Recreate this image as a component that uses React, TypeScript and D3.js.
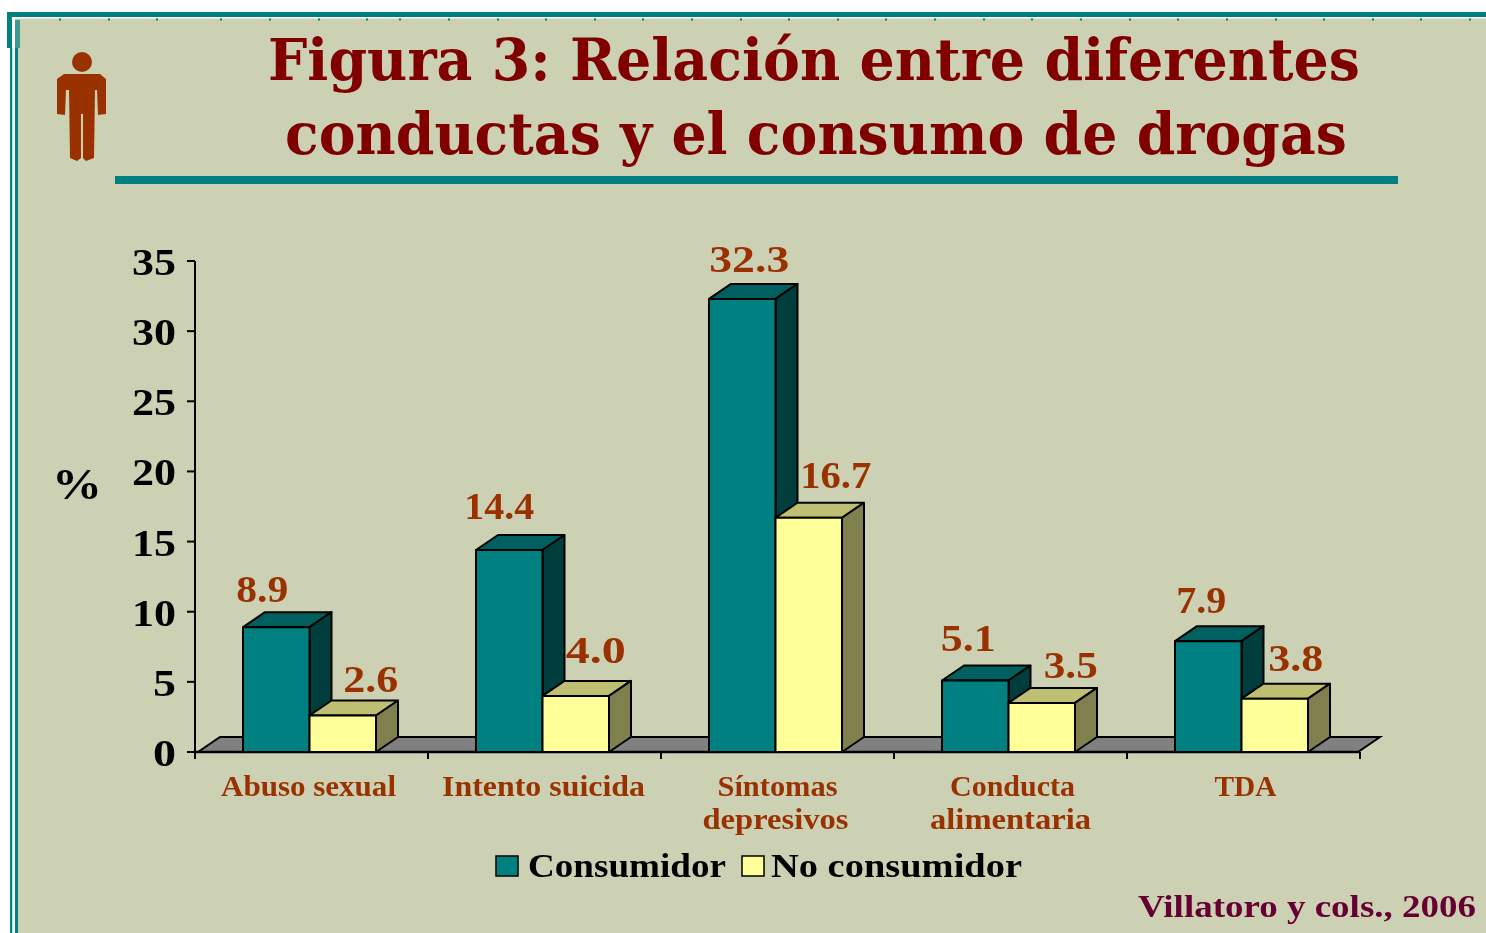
import React from "react";
import * as d3 from "d3";

const categories = ["Abuso sexual", "Intento suicida", "Síntomas depresivos", "Conducta alimentaria", "TDA"];
const seriesNames = ["Consumidor", "No consumidor"];
const consumidor = [8.9, 14.4, 32.3, 5.1, 7.9];
const noConsumidor = [2.6, 4.0, 16.7, 3.5, 3.8];
const yTicks = [0, 5, 10, 15, 20, 25, 30, 35];
const categoryLines = [["Abuso sexual"], ["Intento suicida"], ["Síntomas", "depresivos"], ["Conducta", "alimentaria"], ["TDA"]];
const titleLines = ["Figura 3: Relación entre diferentes", "conductas y el consumo de drogas"];
const sourceText = "Villatoro y cols., 2006";

const W = 1486, H = 933;
const BG = "#CCD1B4", TEAL = "#008080", BROWN = "#993300";
const SERIF = "'DejaVu Serif', serif";
const LIB = "'Liberation Serif', serif";
const DX = 22, DY = 15;

const labelShiftX = [[-14, 28], [-10, 20], [7, 27], [-7, 29], [-7, 21]];
const labelGapY = [[25, 24], [31, 33], [27, 30], [29, 25], [28, 28]];
const labelWidth = [[52, 55], [70, 60], [80, 71], [55, 54], [50, 55]];
const catWidths = [[175], [203], [120, 146], [125, 161], [62]];
const catShift = [[2], [4], [5, 3], [7, 5], [7]];
const tickTopDots = [59, 108, 156, 220, 269, 318, 366, 399, 448, 497, 545, 594, 642, 691, 740, 788, 837, 885, 934, 983, 1031, 1080, 1129, 1177, 1226, 1275, 1323, 1372, 1420, 1469];

const palette = [
  { front: TEAL, side: "#003E3E", top: "#005F5F" },
  { front: "#FFFF99", side: "#808050", top: "#BFBF73" },
];

const y = d3.scaleLinear().domain([0, 35]).range([752, 261]);
const x0 = d3.scaleBand<string>().domain(categories).range([195, 1360]);
const x1 = d3.scaleBand<string>().domain(seriesNames).range([48, 181]);

function Fit({ x, y: yy, w, size, fill, font = LIB, children, weight = 700 }: any) {
  return (
    <text x={x} y={yy} textLength={w} lengthAdjust="spacingAndGlyphs" fontFamily={font} fontWeight={weight} fontSize={size} fill={fill} textAnchor="start">
      {children}
    </text>
  );
}

function Bar3D({ x, w, v, colors }: any) {
  const t = y(v), b = y(0);
  const top = d3.path();
  top.moveTo(x, t); top.lineTo(x + DX, t - DY); top.lineTo(x + w + DX, t - DY); top.lineTo(x + w, t); top.closePath();
  const side = d3.path();
  side.moveTo(x + w, t); side.lineTo(x + w + DX, t - DY); side.lineTo(x + w + DX, b - DY); side.lineTo(x + w, b); side.closePath();
  const st = { stroke: "#000", strokeWidth: 2, strokeLinejoin: "round" as const };
  return (
    <g>
      <path d={top.toString()} fill={colors.top} {...st} />
      <path d={side.toString()} fill={colors.side} {...st} />
      <rect x={x} y={t} width={w} height={b - t} fill={colors.front} {...st} />
    </g>
  );
}

export default function App() {
  const floor = d3.path();
  const fx0 = x0.range()[0], fx1 = x0.range()[1];
  floor.moveTo(fx0 + 3, y(0)); floor.lineTo(fx0 + 3 + DX, y(0) - DY); floor.lineTo(fx1 + 20, y(0) - DY); floor.lineTo(fx1 - 2, y(0)); floor.closePath();

  const edges = [...categories.map((c) => x0(c) as number), fx1];

  const person = d3.path();
  person.moveTo(64, 74); person.lineTo(100, 74); person.lineTo(106, 79); person.lineTo(106, 114); person.lineTo(98, 115); person.lineTo(97, 90);
  person.lineTo(95, 90); person.lineTo(94, 158); person.lineTo(86, 161); person.lineTo(83, 158); person.lineTo(83, 114); person.lineTo(81, 114);
  person.lineTo(81, 158); person.lineTo(77, 161); person.lineTo(70, 158); person.lineTo(69, 90); person.lineTo(66, 90); person.lineTo(65, 115); person.lineTo(57, 114); person.lineTo(57, 79); person.closePath();

  return (
    <svg width={W} height={H} viewBox={`0 0 ${W} ${H}`} style={{ position: "absolute", left: 0, top: 0, display: "block" }}>
      <defs>
        <filter id="soft" x="0" y="0" width="100%" height="100%" filterUnits="userSpaceOnUse">
          <feGaussianBlur stdDeviation="0.55" />
        </filter>
      </defs>
      <rect x={0} y={0} width={W} height={H} fill="#fff" />
      <rect x={14} y={17} width={W - 14} height={H - 17} fill={BG} />
      <g filter="url(#soft)">
      {/* frame */}
      <rect x={7} y={12} width={W - 7} height={5} fill={TEAL} />
      <rect x={14} y={17} width={W - 14} height={1.5} fill="#fff" />
      <rect x={7} y={12} width={5} height={36} fill={TEAL} />
      <rect x={10} y={48} width={2.5} height={H - 48} fill={TEAL} />
      <rect x={12.5} y={17} width={2.5} height={H - 17} fill="#fff" />
      <rect x={15} y={48} width={3} height={H - 48} fill={TEAL} />
      <rect x={15} y={20} width={5} height={28} fill={TEAL} opacity={0.7} />
      {tickTopDots.map((d) => <rect key={d} x={d} y={18.5} width={2} height={2} fill={TEAL} />)}

      {/* person */}
      <circle cx={82} cy={62} r={10} fill={BROWN} />
      <path d={person.toString()} fill={BROWN} />

      {/* title */}
      <Fit x={268} y={80} w={1092} size={57} fill="#800000" font={SERIF}>{titleLines[0]}</Fit>
      <Fit x={285} y={154} w={1062} size={57} fill="#800000" font={SERIF}>{titleLines[1]}</Fit>
      <rect x={115} y={176} width={1283} height={8} fill={TEAL} />

      {/* floor */}
      <path d={floor.toString()} fill="#808080" stroke="#000" strokeWidth={2} />

      {/* y axis */}
      <line x1={195} x2={195} y1={y(35)} y2={y(0)} stroke="#000" strokeWidth={2} />
      {yTicks.map((t) => (
        <g key={t}>
          <line x1={187} x2={195} y1={y(t)} y2={y(t)} stroke="#000" strokeWidth={2} />
          <Fit x={t < 10 ? 153 : 132} y={y(t) + 14} w={t < 10 ? 23 : 44} size={38} fill="#000">{t}</Fit>
        </g>
      ))}
      <Fit x={52} y={499} w={50} size={44} fill="#000">%</Fit>

      {/* x axis */}
      <line x1={195} x2={fx1} y1={y(0)} y2={y(0)} stroke="#000" strokeWidth={2.5} />
      {edges.map((e) => <line key={e} x1={e} x2={e} y1={y(0)} y2={y(0) + 7} stroke="#000" strokeWidth={2} />)}

      {/* bars */}
      {categories.map((c, i) => {
        const bx = x0(c) as number;
        return (
          <g key={c}>
            {[consumidor[i], noConsumidor[i]].map((v, s) => (
              <Bar3D key={s} x={bx + (x1(seriesNames[s]) as number)} w={x1.bandwidth()} v={v} colors={palette[s]} />
            ))}
          </g>
        );
      })}

      {/* data labels */}
      {categories.map((c, i) => {
        const bx = x0(c) as number;
        return [consumidor[i], noConsumidor[i]].map((v, s) => {
          const cx = bx + (x1(seriesNames[s]) as number) + x1.bandwidth() / 2 + labelShiftX[i][s];
          const w = labelWidth[i][s];
          return <Fit key={`${c}-${s}`} x={cx - w / 2} y={y(v) - labelGapY[i][s]} w={w} size={37} fill={BROWN}>{v.toFixed(1)}</Fit>;
        });
      })}

      {/* category labels */}
      {categories.map((c, i) => {
        const center = (x0(c) as number) + x0.bandwidth() / 2 - 5;
        return categoryLines[i].map((ln, k) => {
          const w = catWidths[i][k];
          return <Fit key={ln} x={center + catShift[i][k] - w / 2} y={796 + k * 33} w={w} size={29} fill={BROWN}>{ln}</Fit>;
        });
      })}

      {/* legend */}
      <rect x={496} y={856} width={22} height={20} fill={TEAL} stroke="#000" strokeWidth={1.5} />
      <Fit x={528} y={877} w={198} size={34} fill="#000">{seriesNames[0]}</Fit>
      <rect x={742} y={856} width={22} height={20} fill="#FFFF99" stroke="#000" strokeWidth={1.5} />
      <Fit x={771} y={877} w={251} size={34} fill="#000">{seriesNames[1]}</Fit>

      {/* source */}
      <Fit x={1138} y={917} w={338} size={31} fill="#660033">{sourceText}</Fit>
      </g>
    </svg>
  );
}
